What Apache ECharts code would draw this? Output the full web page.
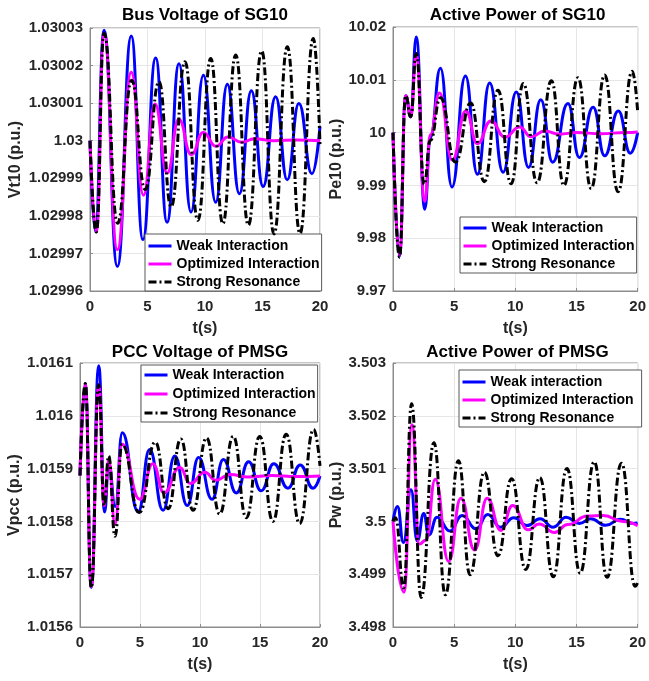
<!DOCTYPE html>
<html>
<head>
<meta charset="utf-8">
<title>SG10 / PMSG interaction responses</title>
<script src="https://cdn.jsdelivr.net/npm/echarts@6/dist/echarts.min.js"></script>
<style>
  html, body { margin: 0; padding: 0; background: #fff; }
  #chart { width: 649px; height: 681px; }
</style>
</head>
<body>
<div id="chart"></div>
<script>
// ---- tick labels ----
const tTicks = ['0', '5', '10', '15', '20'];
const vtTicks = ['1.02996', '1.02997', '1.02998', '1.02999', '1.03', '1.03001', '1.03002', '1.03003'];
const peTicks = ['9.97', '9.98', '9.99', '10', '10.01', '10.02'];
const vpccTicks = ['1.0156', '1.0157', '1.0158', '1.0159', '1.016', '1.0161'];
const pwTicks = ['3.498', '3.499', '3.5', '3.501', '3.502', '3.503'];

// ---- legend names ----
const namesSG = ['Weak Interaction', 'Optimized Interaction', 'Strong Resonance'];
const namesPw = ['Weak interaction', 'Optimized Interaction', 'Strong Resonance'];

// ---- Bus voltage of SG10, Vt10 (p.u.) : [t, value] ----
const vtWeak = [[0, 1.03], [0.46, 1.0299759], [1.22, 1.0300294], [2.38, 1.0299665], [3.59, 1.0300279],
  [4.6, 1.0299737], [5.71, 1.030022], [6.7, 1.0299783], [7.74, 1.0300205], [8.78, 1.029981],
  [9.86, 1.0300174], [10.93, 1.0299836], [11.94, 1.030015], [12.99, 1.0299859], [14.03, 1.0300133],
  [15.05, 1.0299878], [16.14, 1.0300117], [17.15, 1.0299896], [18.16, 1.0300099], [19.3, 1.0299912],
  [20, 1.0300038]];
const vtOpt = [[0, 1.03], [0.55, 1.0299757], [1.22, 1.0300286], [2.38, 1.029971], [3.59, 1.0300182],
  [4.65, 1.0299855], [5.65, 1.0300098], [6.72, 1.0299914], [7.72, 1.0300057], [8.81, 1.0299963],
  [9.85, 1.0300022], [10.95, 1.0299985], [12.0, 1.030001], [13.2, 1.0299996], [14.3, 1.0300005],
  [16.0, 1.03], [18.0, 1.0300002], [20, 1.03]];
const vtStrong = [[0, 1.03], [0.55, 1.0299757], [1.22, 1.0300286], [2.4, 1.029978], [3.62, 1.0300161],
  [4.8, 1.029987], [6.0, 1.0300157], [7.05, 1.0299824], [8.26, 1.030021], [9.38, 1.0299788],
  [10.5, 1.0300219], [11.55, 1.0299779], [12.67, 1.0300228], [13.77, 1.0299775], [14.93, 1.0300239],
  [16.0, 1.0299752], [17.16, 1.030025], [18.26, 1.0299753], [19.42, 1.0300272], [20, 1.029999]];

// ---- Active power of SG10, Pe10 (p.u.) ----
const peWeak = [[0, 10], [0.53, 9.9766], [1.04, 10.007], [1.45, 10.003], [1.9, 10.0181], [2.6, 9.9855],
  [3.05, 9.9991], [3.88, 10.0122], [4.82, 9.9897], [5.92, 10.0107], [6.9, 9.9921], [7.9, 10.0094],
  [9.0, 9.9925], [10.08, 10.0077], [11.08, 9.9934], [12.08, 10.0062], [13.05, 9.9944], [14.3, 10.0055],
  [15.23, 9.9953], [16.36, 10.0048], [17.3, 9.9956], [18.42, 10.0041], [19.4, 9.9961], [20, 10]];
const peOpt = [[0, 10], [0.53, 9.9768], [1.04, 10.007], [1.45, 10.003], [1.9, 10.0148], [2.6, 9.987],
  [3.05, 9.9996], [3.8, 10.0075], [4.85, 9.9948], [5.95, 10.0041], [6.9, 9.9979], [8.0, 10.0022],
  [9.15, 9.99915], [10.35, 10.00105], [11.3, 9.9992], [12.4, 10.0003], [13.6, 9.9997], [15.0, 10],
  [17.0, 9.9998], [19.0, 10], [20, 10.0001]];
const peStrong = [[0, 10], [0.53, 9.9764], [1.04, 10.007], [1.45, 10.003], [1.9, 10.015], [2.55, 9.9902],
  [3.05, 9.9985], [3.88, 10.0066], [5.1, 9.9944], [6.35, 10.0056], [7.47, 9.9907], [8.58, 10.008],
  [9.66, 9.9903], [10.65, 10.0093], [11.78, 9.9905], [12.95, 10.0098], [13.97, 9.99], [15.12, 10.0104],
  [16.2, 9.9894], [17.3, 10.0109], [18.4, 9.9888], [19.55, 10.0116], [20, 10.004]];

// ---- PCC voltage of PMSG, Vpcc (p.u.) ----
const vpWeak = [[0, 1.015887], [0.44, 1.016061], [0.94, 1.015675], [1.56, 1.016095], [2.05, 1.015818],
  [2.39, 1.01591], [2.94, 1.015828], [3.52, 1.015968], [4.85, 1.015818], [5.8, 1.015936],
  [6.92, 1.015821], [7.9, 1.015924], [8.94, 1.01583], [9.88, 1.015921], [11.0, 1.015842],
  [11.95, 1.015917], [13.03, 1.015854], [14.05, 1.015913], [15.1, 1.015858], [16.15, 1.015909],
  [17.33, 1.015863], [18.35, 1.015907], [19.42, 1.015863], [20, 1.015886]];
const vpOpt = [[0, 1.015887], [0.44, 1.01606], [0.94, 1.015676], [1.56, 1.016059], [2.02, 1.01583],
  [2.39, 1.015915], [2.92, 1.015795], [3.5, 1.015946], [4.97, 1.015842], [6.08, 1.015909],
  [7.0, 1.015854], [8.3, 1.015902], [9.2, 1.015872], [10.4, 1.015893], [11.3, 1.015878],
  [12.5, 1.015889], [14.0, 1.015884], [16.0, 1.015887], [18.0, 1.015885], [20, 1.015886]];
const vpStrong = [[0, 1.015887], [0.44, 1.016061], [0.94, 1.015674], [1.56, 1.016059], [2.02, 1.01583],
  [2.39, 1.015924], [2.92, 1.015772], [3.5, 1.015946], [4.95, 1.015817], [6.27, 1.01595],
  [7.35, 1.015824], [8.4, 1.015956], [9.42, 1.015821], [10.54, 1.015958], [11.64, 1.015814],
  [12.77, 1.015961], [13.86, 1.015807], [14.98, 1.015961], [16.08, 1.0158], [17.18, 1.015965],
  [18.3, 1.015796], [19.47, 1.015974], [20, 1.015905]];

// ---- Active power of PMSG, Pw (p.u.) ----
const pwWeak = [[0, 3.5], [0.37, 3.50028], [0.85, 3.4996], [1.47, 3.5006], [1.98, 3.49963], [2.52, 3.50015],
  [2.92, 3.49974], [3.6, 3.50008], [4.66, 3.49982], [5.65, 3.50011], [6.8, 3.49986], [7.74, 3.50013],
  [8.8, 3.49989], [9.88, 3.50007], [10.95, 3.49992], [12.02, 3.50005], [13.09, 3.49989], [14.16, 3.50008],
  [15.23, 3.49996], [16.17, 3.50005], [17.38, 3.499925], [18.58, 3.50004], [19.65, 3.49996], [20, 3.49997]];
const pwOpt = [[0, 3.5], [0.9, 3.49866], [1.55, 3.50183], [2.15, 3.49957], [2.7, 3.49965], [3.45, 3.5008],
  [4.55, 3.49924], [5.55, 3.50044], [6.67, 3.49946], [7.7, 3.50044], [8.82, 3.49983], [9.78, 3.5003],
  [11.05, 3.49984], [11.95, 3.49995], [13.2, 3.49979], [14.3, 3.49994], [15.9, 3.5001], [17.2, 3.50011],
  [18.8, 3.5], [20, 3.49992]];
const pwStrong = [[0, 3.5], [0.2, 3.50007], [0.88, 3.49874], [1.52, 3.50223], [2.3, 3.49856], [3.35, 3.50149],
  [4.28, 3.49861], [5.35, 3.50115], [6.3, 3.49899], [7.47, 3.50093], [8.58, 3.49935], [9.7, 3.50081],
  [10.85, 3.49909], [12.0, 3.50083], [13.1, 3.49895], [14.22, 3.501], [15.3, 3.49902], [16.45, 3.50113],
  [17.5, 3.49894], [18.68, 3.5011], [19.8, 3.49877], [20, 3.49885]];

// ---- styling ----
const FONT = '"Liberation Sans", Arial, sans-serif';
const TEXT = '#262626';
const FRAME = '#8c8c8c';
const GRIDLINE = '#e6e6e6';
const BLUE = '#0000ff', MAGENTA = '#ff00ff', BLACK = '#000000';
const DASHDOT = [8, 3, 2, 3];

const panels = [
  { title: 'Bus Voltage of SG10', yName: 'Vt10 (p.u.)', ticks: vtTicks, names: namesSG,
    data: [vtWeak, vtOpt, vtStrong], titleTop: 7,
    grid: { left: 90, top: 28, width: 230, height: 263 }, yGap: 66,
    legend: { left: 145, top: 234, padding: [5, 2, 2, 2], itemGap: 4 } },
  { title: 'Active Power of SG10', yName: 'Pe10 (p.u.)', ticks: peTicks, names: namesSG,
    data: [peWeak, peOpt, peStrong], titleTop: 7,
    grid: { left: 393, top: 27, width: 249, height: 264 }, yGap: 48,
    legend: { left: 460, top: 217, padding: [4, 2, 2, 2], itemGap: 4 } },
  { title: 'PCC Voltage of PMSG', yName: 'Vpcc (p.u.)', ticks: vpccTicks, names: namesSG,
    data: [vpWeak, vpOpt, vpStrong], titleTop: 344,
    grid: { left: 80, top: 363, width: 240, height: 264 }, yGap: 57,
    legend: { left: 141, top: 365, padding: [3, 2, 2, 2], itemGap: 5 } },
  { title: 'Active Power of PMSG', yName: 'Pw (p.u.)', ticks: pwTicks, names: namesPw,
    data: [pwWeak, pwOpt, pwStrong], titleTop: 344,
    grid: { left: 393, top: 363, width: 249, height: 264 }, yGap: 48,
    legend: { left: 459, top: 370, padding: [5, 8, 2, 2], itemGap: 4 } }
];

function tickFormatter(ticks) {
  const lo = Number(ticks[0]);
  const step = (Number(ticks[ticks.length - 1]) - lo) / (ticks.length - 1);
  return function (value) {
    const i = Math.round((value - lo) / step);
    return ticks[i] !== undefined ? ticks[i] : '';
  };
}

const option = {
  backgroundColor: '#ffffff',
  animation: false,
  textStyle: { fontFamily: FONT },
  title: [], grid: [], xAxis: [], yAxis: [], legend: [], series: []
};

panels.forEach(function (p, k) {
  const g = p.grid;
  option.title.push({
    text: p.title, left: g.left + g.width / 2, top: p.titleTop, textAlign: 'center', padding: 0,
    textStyle: { fontFamily: FONT, fontSize: 17, fontWeight: 'bold', color: '#000' }
  });

  option.grid.push(Object.assign({ show: true, borderColor: FRAME, borderWidth: 1,
    backgroundColor: '#fff', containLabel: false }, g));

  option.xAxis.push({
    gridIndex: k, type: 'value',
    min: Number(tTicks[0]), max: Number(tTicks[tTicks.length - 1]),
    interval: Number(tTicks[1]) - Number(tTicks[0]),
    name: 't(s)', nameLocation: 'middle', nameGap: 30,
    nameTextStyle: { fontFamily: FONT, fontSize: 16, fontWeight: 'bold', color: TEXT },
    axisLine: { show: true, onZero: false, lineStyle: { color: FRAME, width: 1 } },
    axisTick: { show: true, inside: true, length: 3, lineStyle: { color: FRAME } },
    axisLabel: { fontFamily: FONT, fontSize: 15, fontWeight: 'bold', color: TEXT, margin: 8,
      formatter: tickFormatter(tTicks) },
    splitLine: { show: true, lineStyle: { color: GRIDLINE, width: 1 } }
  });

  const lo = Number(p.ticks[0]);
  const hi = Number(p.ticks[p.ticks.length - 1]);
  option.yAxis.push({
    gridIndex: k, type: 'value', min: lo, max: hi,
    interval: (hi - lo) / (p.ticks.length - 1),
    name: p.yName, nameLocation: 'middle', nameGap: p.yGap,
    nameTextStyle: { fontFamily: FONT, fontSize: 16, fontWeight: 'bold', color: TEXT },
    axisLine: { show: true, onZero: false, lineStyle: { color: FRAME, width: 1 } },
    axisTick: { show: true, inside: true, length: 3, lineStyle: { color: FRAME } },
    axisLabel: { fontFamily: FONT, fontSize: 15, fontWeight: 'bold', color: TEXT, margin: 7,
      formatter: tickFormatter(p.ticks) },
    splitLine: { show: true, lineStyle: { color: GRIDLINE, width: 1 } }
  });

  // legend keys show only the line sample (the marker is hidden)
  option.legend.push(Object.assign({
    orient: 'vertical', data: p.names, selectedMode: false,
    itemWidth: 23, itemHeight: 14,
    itemStyle: { opacity: 0 },
    lineStyle: { width: 3 },
    backgroundColor: '#fff', borderColor: '#595959', borderWidth: 1, borderRadius: 0,
    textStyle: { fontFamily: FONT, fontSize: 14, fontWeight: 'bold', color: '#000', lineHeight: 14 }
  }, p.legend));

  const colors = [BLUE, MAGENTA, BLACK];
  p.data.forEach(function (d, j) {
    option.series.push({
      name: p.names[j], type: 'line', xAxisIndex: k, yAxisIndex: k,
      data: d, smooth: 0.5, smoothMonotone: 'x',
      symbol: 'none', showSymbol: false, z: 2 + j,
      lineStyle: { color: colors[j], width: 3, type: j === 2 ? DASHDOT : 'solid' },
      itemStyle: { color: colors[j] }
    });
  });
});

const chart = echarts.init(document.getElementById('chart'), null, { renderer: 'canvas' });
chart.setOption(option);
</script>
</body>
</html>
